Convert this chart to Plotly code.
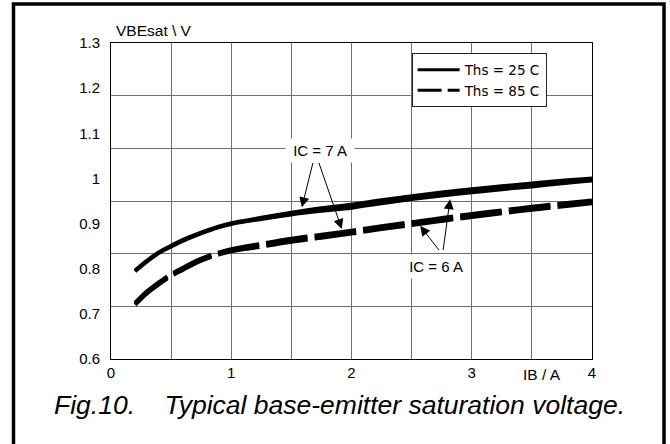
import plotly.graph_objects as go

# ---- data ----
ib = [0.2, 0.3, 0.4, 0.5, 0.6, 0.7, 0.8, 0.9, 1.0, 1.25, 1.5, 1.75, 2.0,
      2.25, 2.5, 2.75, 3.0, 3.25, 3.5, 3.75, 4.0]

vbe_25c_ic7 = [0.796, 0.818, 0.837, 0.851, 0.864, 0.875, 0.885, 0.894, 0.901, 0.913,
               0.924, 0.934, 0.942, 0.952, 0.961, 0.969, 0.976, 0.983, 0.989, 0.995, 1.000]
vbe_25c_ic6 = [0.794, 0.816, 0.835, 0.849, 0.862, 0.873, 0.883, 0.892, 0.899, 0.910,
               0.920, 0.928, 0.935, 0.945, 0.954, 0.962, 0.969, 0.976, 0.982, 0.989, 0.995]
vbe_85c_ic7 = [0.724, 0.750, 0.770, 0.788, 0.802, 0.816, 0.827, 0.836, 0.843, 0.855,
               0.866, 0.875, 0.884, 0.894, 0.903, 0.912, 0.921, 0.929, 0.937, 0.944, 0.951]
vbe_85c_ic6 = [0.720, 0.746, 0.766, 0.784, 0.798, 0.812, 0.823, 0.832, 0.839, 0.849,
               0.860, 0.869, 0.878, 0.888, 0.897, 0.906, 0.915, 0.923, 0.931, 0.938, 0.945]

legend_names = ["Ths = 25 C", "Ths = 85 C"]
x_ticks = [0, 1, 2, 3, 4]
y_ticks = [0.6, 0.7, 0.8, 0.9, 1.0, 1.1, 1.2, 1.3]
y_ticktext = ["0.6", "0.7", "0.8", "0.9", "1", "1.1", "1.2", "1.3"]

FONT = "Liberation Sans, Arial, sans-serif"
CURVE_DASH = "42px,7px"

fig = go.Figure()

for yv in (vbe_25c_ic7, vbe_25c_ic6):
    fig.add_trace(go.Scatter(x=ib, y=yv, mode="lines", showlegend=False,
                             line=dict(color="black", width=3.8, shape="spline"),
                             hoverinfo="skip"))
for yv in (vbe_85c_ic7, vbe_85c_ic6):
    fig.add_trace(go.Scatter(x=ib, y=yv, mode="lines", showlegend=False,
                             line=dict(color="black", width=4.2, shape="spline",
                                       dash=CURVE_DASH),
                             hoverinfo="skip"))

# legend entries
fig.add_trace(go.Scatter(x=[None], y=[None], mode="lines", name=legend_names[0],
                         line=dict(color="black", width=3)))
fig.add_trace(go.Scatter(x=[None], y=[None], mode="lines", name=legend_names[1],
                         line=dict(color="black", width=3, dash="24px,6px")))

# empty trace on the grid axis so that axis is drawn
fig.add_trace(go.Scatter(x=[None], y=[None], yaxis="y2", showlegend=False))

GRID = "#6f6f6f"
fig.update_layout(
    width=670, height=444, autosize=False,
    margin=dict(l=111, r=78, t=43, b=85, pad=0),
    paper_bgcolor="white", plot_bgcolor="white",
    font=dict(family=FONT, color="black", size=15),
    xaxis=dict(range=[0, 4], tickvals=x_ticks, ticks="", ticklen=0, showgrid=True,
               gridcolor=GRID, gridwidth=1,
               minor=dict(dtick=0.5, tick0=0, showgrid=True, gridcolor=GRID, gridwidth=1),
               showline=True, linecolor="black", linewidth=1, mirror=True,
               zeroline=False, tickfont=dict(size=15), ticklabelstandoff=0),
    yaxis=dict(range=[0.6, 1.3], tickvals=y_ticks, ticktext=y_ticktext, ticks="",
               ticklen=0, showgrid=False, showline=True, linecolor="black", linewidth=1,
               mirror=True, zeroline=False, tickfont=dict(size=15),
               ticklabelstandoff=7),
    yaxis2=dict(range=[0, 6], dtick=1, overlaying="y", side="right",
                showgrid=True, gridcolor=GRID, gridwidth=1,
                showticklabels=False, ticks="", zeroline=False, showline=False),
    legend=dict(x=0.625, y=0.967, xanchor="left", yanchor="top",
                bgcolor="white", bordercolor="#222222", borderwidth=1,
                font=dict(size=13.5, family="DejaVu Sans, sans-serif"), itemwidth=42,
                tracegroupgap=0),
    showlegend=True,
)

annos = []
# axis labels and caption
annos.append(dict(text="VBEsat \\ V", xref="paper", yref="paper", x=0.0894, y=1.038,
                  xanchor="center", yanchor="middle", showarrow=False,
                  font=dict(size=15.5)))
annos.append(dict(text="IB / A", xref="x", yref="paper", x=3.586, y=-0.0506,
                  xanchor="center", yanchor="middle", showarrow=False,
                  font=dict(size=15.5)))
annos.append(dict(text="<i>Fig.10.\u00a0\u00a0\u00a0\u00a0Typical base-emitter saturation voltage.</i>",
                  xref="paper", yref="paper", x=0.475, y=-0.1456,
                  xanchor="center", yanchor="middle", showarrow=False,
                  font=dict(size=26.5)))
# arrows (head on the curve, tail at the label)
for hx, hy, tx, ty in [(1.587, 0.936, 1.682, 1.0375), (1.919, 0.888, 1.725, 1.0375),
                       (2.571, 0.895, 2.737, 0.838), (2.82, 0.954, 2.76, 0.838)]:
    annos.append(dict(text="", x=hx, y=hy, ax=tx, ay=ty, xref="x", yref="y",
                      axref="x", ayref="y", showarrow=True, arrowhead=2,
                      arrowsize=2, arrowwidth=1, arrowcolor="black", standoff=0))
annos.append(dict(text="\u00a0IC = 7 A\u00a0", x=1.739, y=1.062, xref="x", yref="y",
                  xanchor="center", yanchor="middle",
                  showarrow=False, bgcolor="white", borderpad=3, font=dict(size=15)))
annos.append(dict(text="\u00a0IC = 6 A\u00a0", x=2.701, y=0.8047, xref="x", yref="y",
                  xanchor="center", yanchor="middle",
                  showarrow=False, bgcolor="white", borderpad=3, font=dict(size=15)))
fig.update_layout(annotations=annos)

# outer frame of the figure
fig.add_shape(type="rect", xref="paper", yref="paper",
              x0=-0.2027, x1=1.1497, y0=-0.5, y1=1.1234,
              line=dict(color="black", width=3.5), fillcolor="rgba(0,0,0,0)",
              layer="above")

fig.write_html("out.html", config={"displayModeBar": False},
               post_script="document.body.style.margin='0';")
